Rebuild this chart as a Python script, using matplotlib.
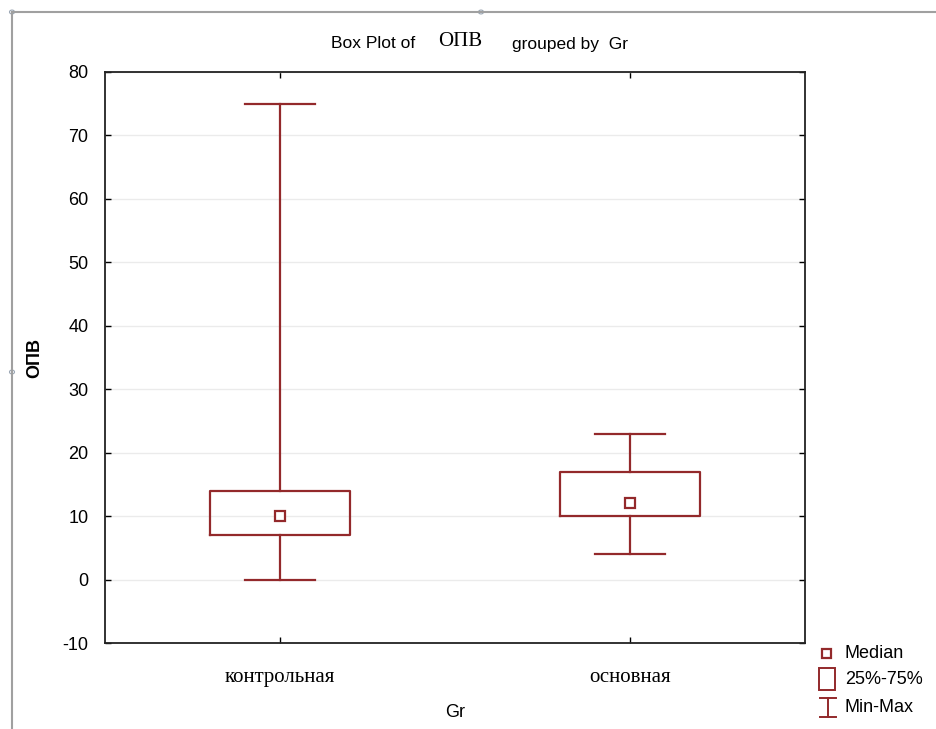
import matplotlib
matplotlib.use("Agg")
import matplotlib.pyplot as plt
from matplotlib.lines import Line2D
from matplotlib.patches import Rectangle, Circle

plt.rcParams["axes.unicode_minus"] = False

# Group summaries for ОПВ
groups = ["контрольная", "основная"]
mins = [0, 4]
q1 = [7, 10]
medians = [10, 12]
q3 = [14, 17]
maxs = [75, 23]
y_ticks = [-10, 0, 10, 20, 30, 40, 50, 60, 70, 80]

RED = "#93292b"
SANS = "Liberation Sans"
SERIF = "Liberation Serif"

W, H = 937, 729
def fx(x):
    return x / W
def fy(y):
    return 1 - y / H

fig = plt.figure(figsize=(9.37, 7.29), dpi=100)
ax = fig.add_axes([105 / W, 1 - 643 / H, 700 / W, 571 / H])

stats = []
for g, lo, a, m, b, hi in zip(groups, mins, q1, medians, q3, maxs):
    stats.append(dict(label=g, whislo=lo, q1=a, med=m, q3=b, whishi=hi, fliers=[]))

positions = [1, 2]
ax.bxp(stats, positions=positions, widths=0.4, capwidths=0.2, showfliers=False,
       boxprops=dict(color=RED, linewidth=1.6),
       whiskerprops=dict(color=RED, linewidth=1.6),
       capprops=dict(color=RED, linewidth=1.6),
       medianprops=dict(linewidth=0))
ax.plot(positions, medians, linestyle="none", marker="s", markersize=7,
        markerfacecolor="white", markeredgecolor=RED, markeredgewidth=1.6, zorder=5)

ax.set_xlim(0.5, 2.5)
ax.set_ylim(-10, 80)
ax.set_yticks(y_ticks)
ax.set_xticks(positions)
ax.set_xticklabels(groups, fontfamily=SERIF, fontsize=15)
for lbl in ax.get_yticklabels():
    lbl.set_fontfamily(SANS)
    lbl.set_fontsize(13)
ax.tick_params(axis="both", direction="in", length=4, width=1, top=True, right=True, pad=12)
ax.tick_params(axis="x", pad=18)
ax.yaxis.grid(True, color="#ebebeb", linewidth=1)
ax.set_axisbelow(True)
for s in ax.spines.values():
    s.set_linewidth(1.3)
    s.set_color("#222222")

ax.set_xlabel("Gr", fontfamily=SANS, fontsize=13, labelpad=12)
fig.text(fx(35), fy(358), "ОПВ", rotation=90, ha="center", va="center",
         fontfamily=SANS, fontsize=13, fontweight="bold")

# Title in mixed fonts
fig.text(fx(415), fy(44), "Box Plot of", ha="right", va="center",
         fontfamily=SANS, fontsize=12.5)
fig.text(fx(460), fy(42), "ОПВ", ha="center", va="center",
         fontfamily=SERIF, fontsize=15)
fig.text(fx(512), fy(44), "grouped by  Gr", ha="left", va="center",
         fontfamily=SANS, fontsize=12.5)

# Legend keys drawn in figure coordinates
fig.add_artist(Rectangle((fx(822), fy(658)), fx(9), 9 / H, transform=fig.transFigure,
                         facecolor="white", edgecolor=RED, linewidth=1.6))
fig.text(fx(845), fy(654), "Median", ha="left", va="center", fontfamily=SANS, fontsize=13)
fig.add_artist(Rectangle((fx(819), fy(690)), fx(16), 22 / H, transform=fig.transFigure,
                         facecolor="white", edgecolor=RED, linewidth=1.4))
fig.text(fx(845), fy(680), "25%-75%", ha="left", va="center", fontfamily=SANS, fontsize=13)
fig.add_artist(Line2D([fx(820), fx(836)], [fy(698), fy(698)], transform=fig.transFigure,
                      color=RED, linewidth=1.4))
fig.add_artist(Line2D([fx(820), fx(836)], [fy(717), fy(717)], transform=fig.transFigure,
                      color=RED, linewidth=1.4))
fig.add_artist(Line2D([fx(828), fx(828)], [fy(698), fy(717)], transform=fig.transFigure,
                      color=RED, linewidth=1.4))
fig.text(fx(845), fy(707), "Min-Max", ha="left", va="center", fontfamily=SANS, fontsize=13)

# Window frame lines with handles
fig.add_artist(Line2D([fx(12), fx(937)], [fy(12), fy(12)], transform=fig.transFigure,
                      color="#a0a0a0", linewidth=1.5))
fig.add_artist(Line2D([fx(12), fx(12)], [fy(12), fy(729)], transform=fig.transFigure,
                      color="#a0a0a0", linewidth=1.5))
for (cx, cy) in [(12, 372), (481, 12), (12, 12)]:
    fig.add_artist(Circle((fx(cx), fy(cy)), 2.5 / W, transform=fig.transFigure,
                          facecolor="white", edgecolor="#9aa6b4", linewidth=0.8))

fig.savefig("out.png", dpi=100)
